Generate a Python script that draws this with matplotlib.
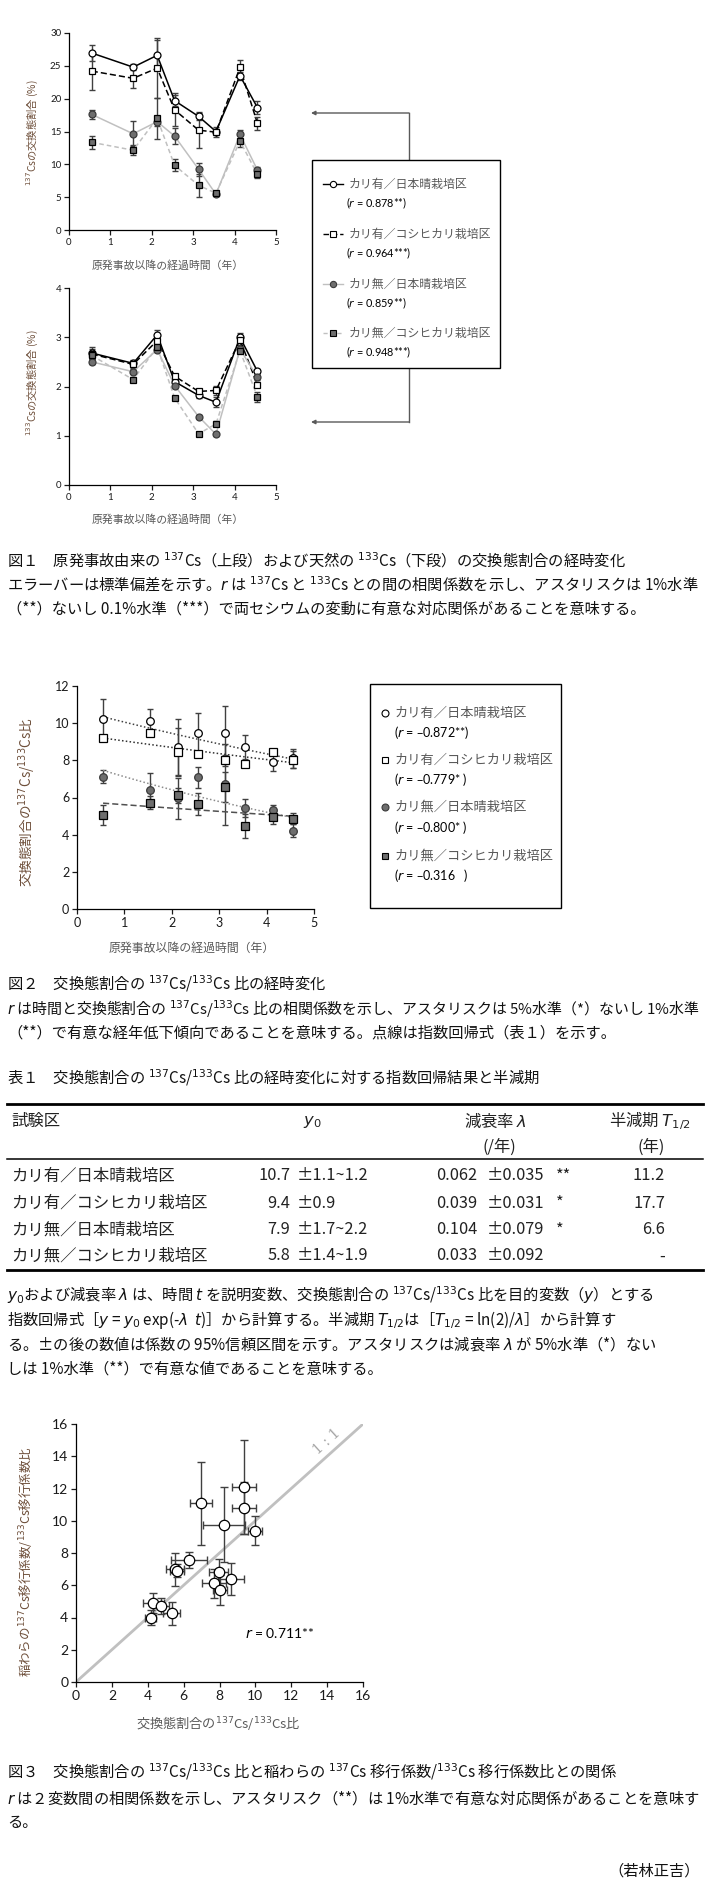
import numpy as np
import matplotlib
matplotlib.use('Agg')
import matplotlib.pyplot as plt
from matplotlib.patches import Rectangle, FancyArrowPatch
from matplotlib.lines import Line2D

plt.rcParams['font.family'] = ['Noto Sans CJK JP', 'DejaVu Sans']
plt.rcParams['mathtext.fontset'] = 'dejavusans'
plt.rcParams['axes.unicode_minus'] = False

W, H = 705, 1900
fig = plt.figure(figsize=(W / 100, H / 100), dpi=100)

# ---------------- data ----------------
years = [0.55, 1.55, 2.13, 2.55, 3.13, 3.55, 4.13, 4.55]
series_names = ['カリ有／日本晴栽培区', 'カリ有／コシヒカリ栽培区',
                'カリ無／日本晴栽培区', 'カリ無／コシヒカリ栽培区']

# Fig.1 upper: 137Cs exchangeable fraction (%)
cs137_A = [26.95, 24.8, 26.6, 19.7, 17.3, 15.0, 23.5, 18.65]
cs137_B = [24.2, 23.1, 24.65, 18.3, 15.2, 14.9, 24.75, 16.25]
cs137_C = [17.6, 14.65, 16.5, 14.3, 9.25, 5.45, 14.55, 9.15]
cs137_D = [13.35, 12.15, 17.0, 9.85, 6.8, 5.6, 13.55, 8.5]
cs137_A_sd = [1.2, 0.5, 2.3, 0.8, 0.5, 0.4, 0.6, 1.0]
cs137_B_sd = [2.9, 1.5, 4.6, 2.5, 2.7, 0.8, 1.1, 1.0]
cs137_C_sd = [0.7, 1.9, 0.6, 1.2, 1.0, 0.3, 0.7, 0.5]
cs137_D_sd = [1.0, 0.8, 3.1, 0.9, 1.7, 0.3, 0.9, 0.6]

# Fig.1 lower: 133Cs exchangeable fraction (%)
cs133_A = [2.68, 2.47, 3.05, 2.10, 1.82, 1.68, 3.00, 2.31]
cs133_B = [2.66, 2.45, 2.93, 2.21, 1.90, 1.92, 2.95, 2.04]
cs133_C = [2.50, 2.30, 2.75, 2.02, 1.39, 1.03, 2.76, 2.19]
cs133_D = [2.63, 2.14, 2.80, 1.77, 1.04, 1.24, 2.73, 1.79]
cs133_A_sd = [0.12, 0.05, 0.10, 0.05, 0.05, 0.10, 0.08, 0.05]
cs133_B_sd = [0.10, 0.08, 0.08, 0.05, 0.05, 0.10, 0.10, 0.05]
cs133_C_sd = [0.05, 0.05, 0.05, 0.05, 0.03, 0.03, 0.05, 0.05]
cs133_D_sd = [0.05, 0.05, 0.08, 0.03, 0.03, 0.05, 0.05, 0.10]

fig1_r = ['0.878**', '0.964***', '0.859**', '0.948***']

# Fig.2: 137Cs/133Cs ratio of exchangeable fraction
ratio_A = [10.2, 10.12, 8.73, 9.45, 9.45, 8.71, 7.91, 8.1]
ratio_B = [9.19, 9.48, 8.44, 8.34, 8.01, 7.78, 8.46, 8.03]
ratio_C = [7.12, 6.4, 5.95, 7.08, 6.7, 5.42, 5.33, 4.22]
ratio_D = [5.06, 5.71, 6.12, 5.64, 6.57, 4.45, 4.94, 4.85]
ratio_A_sd = [1.1, 0.63, 1.5, 1.1, 1.45, 0.66, 0.47, 0.52]
ratio_B_sd = [0.15, 0.15, 1.3, 0.15, 0.3, 0.15, 0.15, 0.45]
ratio_C_sd = [0.35, 0.9, 1.1, 0.57, 2.2, 0.48, 0.25, 0.35]
ratio_D_sd = [0.55, 0.35, 0.4, 0.6, 0.8, 0.64, 0.38, 0.3]
fig2_r = ['–0.872**', '–0.779* ', '–0.800* ', '–0.316   ']

# Table 1
tbl_y0 = ['10.7', '9.4', '7.9', '5.8']
tbl_y0_ci = ['±1.1~1.2', '±0.9', '±1.7~2.2', '±1.4~1.9']
tbl_lam = ['0.062', '0.039', '0.104', '0.033']
tbl_lam_ci = ['±0.035', '±0.031', '±0.079', '±0.092']
tbl_sig = ['**', '*', '*', '']
tbl_half = ['11.2', '17.7', '6.6', '-']

# Fig.3
f3_x = [6.95, 9.38, 9.38, 8.23, 9.99, 6.28, 5.52, 5.64, 7.95, 7.71, 8.64, 8.03, 4.32, 4.75, 5.34, 4.17]
f3_xerr = [0.62, 0.68, 0.68, 1.17, 0.40, 1.00, 0.52, 0.40, 0.54, 0.68, 0.70, 0.40, 0.56, 0.45, 0.47, 0.30]
f3_y = [11.09, 12.1, 10.78, 9.76, 9.37, 7.56, 6.98, 6.9, 6.82, 6.11, 6.38, 5.7, 4.91, 4.73, 4.25, 4.0]
f3_yerr = [2.58, 2.9, 1.6, 2.34, 0.9, 0.5, 1.0, 0.4, 0.8, 0.9, 1.0, 0.95, 0.6, 0.5, 0.7, 0.45]

# ---------------- helpers ----------------
def fx(x):
    return x / W

def fy(y):
    return 1 - y / H

def ax_px(l, t, r, b):
    return fig.add_axes([l / W, 1 - b / H, (r - l) / W, (b - t) / H])

def T(x, y, s, size, ha='left', va='center', **kw):
    return fig.text(fx(x), fy(y), s, fontsize=size, ha=ha, va=va, **kw)

_renderer = fig.canvas.get_renderer()

def C(x, y, s, size, right=700, **kw):
    """caption line; shrink font if it would run past the right edge"""
    t = T(x, y, s, size, **kw)
    bb = t.get_window_extent(renderer=_renderer)
    if bb.x1 > right:
        t.set_fontsize(size * (right - bb.x0) / (bb.x1 - bb.x0))
    return t

def style_ax(ax, xlim, ylim, xticks, yticks, lsize):
    ax.set_xlim(*xlim)
    ax.set_ylim(*ylim)
    ax.set_xticks(xticks)
    ax.set_yticks(yticks)
    for s in ['top', 'right']:
        ax.spines[s].set_visible(False)
    for s in ['left', 'bottom']:
        ax.spines[s].set_linewidth(0.9)
        ax.spines[s].set_color('black')
    ax.tick_params(direction='out', length=3.5, width=0.9, labelsize=lsize,
                   colors='#1a1a1a', pad=2)
    for lb in ax.get_xticklabels() + ax.get_yticklabels():
        lb.set_fontfamily('Lato')
    ax.patch.set_alpha(0)

styles = [
    dict(marker='o', mfc='white', mec='black', color='black', ls='-'),
    dict(marker='s', mfc='white', mec='black', color='black', ls=(0, (4, 2))),
    dict(marker='o', mfc='#6e6e6e', mec='#3a3a3a', color='#c0c0c0', ls='-'),
    dict(marker='s', mfc='#6e6e6e', mec='black', color='#c0c0c0', ls=(0, (3, 2))),
]

def draw_series(ax, vals, sds, ms, with_lines=True):
    for i, (v, sd) in enumerate(zip(vals, sds)):
        st = styles[i]
        ax.errorbar(years, v, yerr=sd, fmt='none', ecolor='#404040',
                    elinewidth=1, capsize=2.5, capthick=1, zorder=2)
        if with_lines:
            ax.plot(years, v, color=st['color'], ls=st['ls'], lw=1.1, zorder=3)
    for i, v in enumerate(vals):
        st = styles[i]
        ax.plot(years, v, ls='none', marker=st['marker'], ms=ms, mfc=st['mfc'],
                mec=st['mec'], mew=0.9, zorder=4 + i)

YL = '#6e4f3a'
XL = '#595959'

# ---------------- Figure 1 ----------------
ax1 = ax_px(69, 33, 276, 230)
draw_series(ax1, [cs137_A, cs137_B, cs137_C, cs137_D],
            [cs137_A_sd, cs137_B_sd, cs137_C_sd, cs137_D_sd], 5)
style_ax(ax1, (0, 5), (0, 30), range(0, 6), range(0, 31, 5), 7)
T(168, 266, '原発事故以降の経過時間（年）', 7.8, ha='center', color=XL)
T(32, 133, '$^{137}$Csの交換態割合 (%)', 7.4, ha='center', rotation=90, color=YL)

ax2 = ax_px(69, 288, 276, 485)
draw_series(ax2, [cs133_A, cs133_B, cs133_C, cs133_D],
            [cs133_A_sd, cs133_B_sd, cs133_C_sd, cs133_D_sd], 5)
style_ax(ax2, (0, 5), (0, 4), range(0, 6), range(0, 5), 7)
T(168, 520, '原発事故以降の経過時間（年）', 7.8, ha='center', color=XL)
T(32, 383, '$^{133}$Csの交換態割合 (%)', 7.4, ha='center', rotation=90, color=YL)

# connector with arrows
cc = '#595959'
fig.add_artist(Line2D([fx(409), fx(409)], [fy(113), fy(422)], color=cc, lw=1, zorder=1))
for yy in (113, 422):
    fig.add_artist(FancyArrowPatch((fx(409), fy(yy)), (fx(311), fy(yy)),
                                   transform=fig.transFigure, arrowstyle='-|>',
                                   mutation_scale=6, color=cc, lw=1,
                                   shrinkA=0, shrinkB=0, zorder=1))
fig.add_artist(Rectangle((fx(312), fy(368)), (500 - 312) / W, (368 - 160) / H,
                         transform=fig.transFigure, facecolor='white',
                         edgecolor='black', lw=1, zorder=2))
leg1_y = [184, 234, 284, 333]
for i, name in enumerate(series_names):
    st = styles[i]
    y = leg1_y[i]
    fig.add_artist(Line2D([fx(323), fx(343)], [fy(y), fy(y)], color=st['color'],
                          ls=st['ls'], lw=1, zorder=3))
    fig.add_artist(Line2D([fx(333)], [fy(y)], marker=st['marker'], ms=4.5,
                          mfc=st['mfc'], mec=st['mec'], mew=0.8, ls='none', zorder=4))
    T(349, y, name, 8.6, color=XL, zorder=5)
    T(346, y + 19.5, '($r$ = ' + fig1_r[i] + ')', 7.8, color='black',
      family=['Lato', 'DejaVu Sans'], zorder=5)

# captions fig 1
CAP = 11
CC = '#111111'
C(7, 561, '図１　原発事故由来の $^{137}$Cs（上段）および天然の $^{133}$Cs（下段）の交換態割合の経時変化', CAP, color=CC)
C(7, 585, 'エラーバーは標準偏差を示す。$r$ は $^{137}$Cs と $^{133}$Cs との間の相関係数を示し、アスタリスクは 1%水準', CAP, color=CC)
C(7, 609, '（**）ないし 0.1%水準（***）で両セシウムの変動に有意な対応関係があることを意味する。', CAP, color=CC)

# ---------------- Figure 2 ----------------
ax3 = ax_px(77, 686, 314, 909)
draw_series(ax3, [ratio_A, ratio_B, ratio_C, ratio_D],
            [ratio_A_sd, ratio_B_sd, ratio_C_sd, ratio_D_sd], 5.5, with_lines=False)
fit_styles = [dict(color='#404040', ls=(0, (1, 1.5))), dict(color='#303030', ls=(0, (1, 1.5))),
              dict(color='#8c8c8c', ls=(0, (1, 1.5))), dict(color='#505050', ls=(0, (4, 2)))]
tt = np.linspace(years[0], years[-1], 50)
for i in range(4):
    yfit = float(tbl_y0[i]) * np.exp(-float(tbl_lam[i]) * tt)
    ax3.plot(tt, yfit, lw=1.1, zorder=3.5, **fit_styles[i])
style_ax(ax3, (0, 5), (0, 12), range(0, 6), range(0, 13, 2), 9)
T(192, 948, '原発事故以降の経過時間（年）', 8.6, ha='center', color=XL)
T(27, 802, '交換態割合の$^{137}$Cs/$^{133}$Cs比', 9.8, ha='center', rotation=90, color=YL)

fig.add_artist(Rectangle((fx(370), fy(908)), (561 - 370) / W, (908 - 684) / H,
                         transform=fig.transFigure, facecolor='white',
                         edgecolor='black', lw=1, zorder=2))
leg2_y = [713, 760, 807, 856]
for i, name in enumerate(series_names):
    st = styles[i]
    y = leg2_y[i]
    fig.add_artist(Line2D([fx(385)], [fy(y)], marker=st['marker'], ms=5,
                          mfc=st['mfc'], mec=st['mec'], mew=0.8, ls='none', zorder=4))
    T(395, y, name, 9.5, color=XL, zorder=5)
    T(394, y + 20, '($r$ = ' + fig2_r[i] + ')', 9, color='black',
      family=['Lato', 'DejaVu Sans'], zorder=5)

C(7, 984, '図２　交換態割合の $^{137}$Cs/$^{133}$Cs 比の経時変化', CAP, color=CC)
C(7, 1009, '$r$ は時間と交換態割合の $^{137}$Cs/$^{133}$Cs 比の相関係数を示し、アスタリスクは 5%水準（*）ないし 1%水準', CAP, color=CC)
C(7, 1033, '（**）で有意な経年低下傾向であることを意味する。点線は指数回帰式（表１）を示す。', CAP, color=CC)

# ---------------- Table 1 ----------------
C(7, 1078, '表１　交換態割合の $^{137}$Cs/$^{133}$Cs 比の経時変化に対する指数回帰結果と半減期', CAP, color=CC)
for yy, lw in ((1104, 2.0), (1159, 1.1), (1270, 2.0)):
    fig.add_artist(Line2D([fx(7), fx(703)], [fy(yy), fy(yy)], color='black', lw=lw))
TS = 11.8
TC = '#222222'
T(11, 1121, '試験区', TS, color=TC)
T(312, 1121, '$y_0$', TS, ha='center', color=TC)
T(495, 1121, '減衰率 $\\lambda$', TS, ha='center', color=TC)
T(650, 1121, '半減期 $T_{1/2}$', TS, ha='center', color=TC)
T(499, 1147, '(/年)', TS, ha='center', color=TC)
T(651, 1147, '(年)', TS, ha='center', color=TC)
row_y = [1176, 1203, 1230, 1256]
for i, name in enumerate(series_names):
    y = row_y[i]
    T(11, y, name, TS, color=TC)
    T(290, y, tbl_y0[i], TS, ha='right', color=TC)
    T(297, y, tbl_y0_ci[i], TS, color=TC)
    T(436, y, tbl_lam[i], TS, color=TC)
    T(487, y, tbl_lam_ci[i], TS, color=TC)
    if tbl_sig[i]:
        T(556, y, tbl_sig[i], TS, color=TC)
    T(665, y, tbl_half[i], TS, ha='right', color=TC)

C(7, 1295, '$y_0$および減衰率 $\\lambda$ は、時間 $t$ を説明変数、交換態割合の $^{137}$Cs/$^{133}$Cs 比を目的変数（$y$）とする', CAP, color=CC)
C(7, 1320, '指数回帰式［$y$ = $y_0$ exp(-$\\lambda$  $t$)］から計算する。半減期 $T_{1/2}$は［$T_{1/2}$ = ln(2)/$\\lambda$］から計算す', CAP, color=CC)
C(7, 1345, 'る。±の後の数値は係数の 95%信頼区間を示す。アスタリスクは減衰率 $\\lambda$ が 5%水準（*）ない', CAP, color=CC)
C(7, 1369, 'しは 1%水準（**）で有意な値であることを意味する。', CAP, color=CC)

# ---------------- Figure 3 ----------------
ax4 = ax_px(76, 1424, 363, 1682)
ax4.plot([0, 16], [0, 16], color='#c0c0c0', lw=2, zorder=1)
ax4.errorbar(f3_x, f3_y, xerr=f3_xerr, yerr=f3_yerr, fmt='none', ecolor='#404040',
             elinewidth=1, capsize=3, capthick=1, zorder=2)
ax4.plot(f3_x, f3_y, ls='none', marker='o', ms=7.5, mfc='white', mec='black',
         mew=0.9, zorder=3)
style_ax(ax4, (0, 16), (0, 16), range(0, 17, 2), range(0, 17, 2), 10)
ax4.text(14.0, 14.9, '1 : 1', rotation=42, color='#a6a6a6', fontsize=10,
         ha='center', va='center', family=['DejaVu Serif'])
ax4.text(9.4, 3.05, '$r$ = 0.711**', fontsize=10, ha='left', va='center',
         family=['Lato', 'DejaVu Sans'], color='black')
T(218, 1723, '交換態割合の$^{137}$Cs/$^{133}$Cs比', 9.5, ha='center', color=XL)
T(27, 1562, '稲わらの$^{137}$Cs移行係数/$^{133}$Cs移行係数比', 9, ha='center',
  rotation=90, color=YL)

C(7, 1772, '図３　交換態割合の $^{137}$Cs/$^{133}$Cs 比と稲わらの $^{137}$Cs 移行係数/$^{133}$Cs 移行係数比との関係', CAP, color=CC)
C(7, 1798, '$r$ は２変数間の相関係数を示し、アスタリスク（**）は 1%水準で有意な対応関係があることを意味す', CAP, color=CC)
C(7, 1823, 'る。', CAP, color=CC)
T(700, 1871, '（若林正吉）', CAP, ha='right', color=CC)

fig.savefig('out.png', dpi=100, facecolor='white')
